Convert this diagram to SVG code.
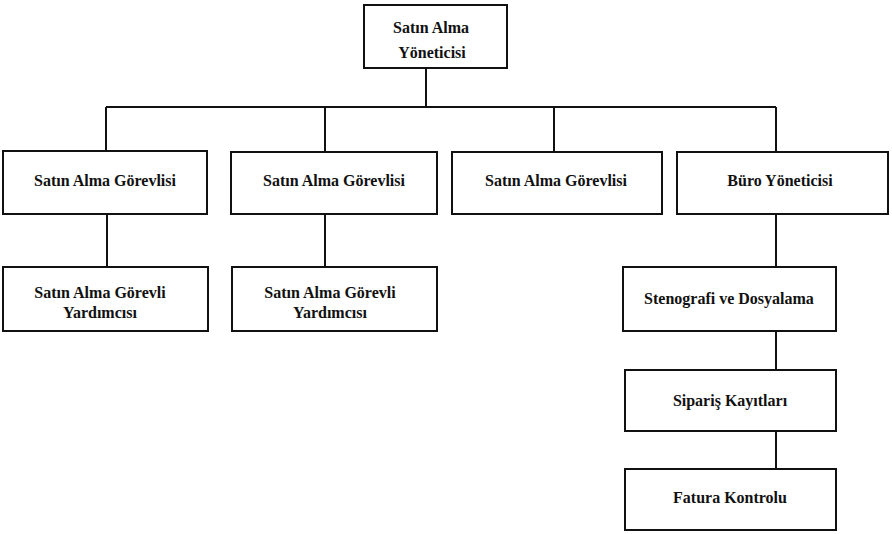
<svg xmlns="http://www.w3.org/2000/svg" width="892" height="534" viewBox="0 0 892 534">
<style>
.box{fill:#fff;stroke:#111;stroke-width:2}
.ln{fill:none;stroke:#111;stroke-width:2}
text{font-family:"Liberation Serif","Times New Roman",serif;font-weight:bold;font-size:16px;fill:#111;text-anchor:middle}
</style>
<rect width="892" height="534" fill="#fff"/>
<g id="connectors">
<path class="ln" d="M426 68V107M106 107H776M106 107V151M325 107V152M554 107V152M776 107V152"/>
<path class="ln" d="M107 214V267M325 214V267M776 214V267M776 331V370M776 431V469"/>
</g>
<g id="n-yonetici"><rect class="box" x="364" y="5" width="143" height="63"/><text x="431" y="33">Satın Alma</text><text x="432" y="58">Yöneticisi</text></g>
<g id="n-gorevli1"><rect class="box" x="3" y="151" width="204" height="63"/><text x="105" y="186">Satın Alma Görevlisi</text></g>
<g id="n-gorevli2"><rect class="box" x="231" y="152" width="206" height="62"/><text x="334" y="186">Satın Alma Görevlisi</text></g>
<g id="n-gorevli3"><rect class="box" x="452" y="152" width="210" height="62"/><text x="556" y="186">Satın Alma Görevlisi</text></g>
<g id="n-buro"><rect class="box" x="677" y="152" width="211" height="62"/><text x="780" y="186">Büro Yöneticisi</text></g>
<g id="n-yardimci1"><rect class="box" x="3" y="267" width="205" height="64"/><text x="100" y="298">Satın Alma Görevli</text><text x="100" y="318">Yardımcısı</text></g>
<g id="n-yardimci2"><rect class="box" x="232" y="267" width="205" height="64"/><text x="330" y="298">Satın Alma Görevli</text><text x="330" y="318">Yardımcısı</text></g>
<g id="n-steno"><rect class="box" x="623" y="267" width="213" height="64"/><text x="729" y="304">Stenografi ve Dosyalama</text></g>
<g id="n-siparis"><rect class="box" x="625" y="370" width="211" height="61"/><text x="730" y="406">Sipariş Kayıtları</text></g>
<g id="n-fatura"><rect class="box" x="625" y="469" width="211" height="61"/><text x="730" y="503">Fatura Kontrolu</text></g>
</svg>
